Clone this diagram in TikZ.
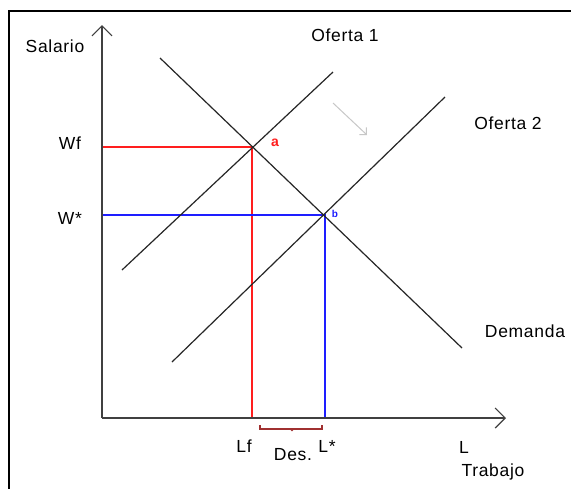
\documentclass[tikz,border=0pt]{standalone}
\usepackage{fontspec}
\setmainfont{Liberation Sans}
\newfontfamily\lblfont[LetterSpace=4]{Liberation Sans}
\usetikzlibrary{arrows.meta}
\definecolor{bracketred}{RGB}{160,48,48}
\definecolor{pred}{RGB}{255,30,30}
\definecolor{pblue}{RGB}{30,30,255}
\begin{document}
\begin{tikzpicture}[x=1pt,y=-1pt,
  lbl/.style={font=\lblfont\fontsize{17.5}{20}\selectfont, inner sep=0pt},
  small/.style={font=\fontsize{14}{16}\selectfont\bfseries, inner sep=0pt},
  curve/.style={line width=1.2pt, black!85},
  axisline/.style={line width=1.6pt, black!75, -{Straight Barb[length=10pt,width=20pt,line width=1.2pt]}},
  redline/.style={line width=1.5pt, pred},
  blueline/.style={line width=1.5pt, pblue}]
\useasboundingbox (0,0) rectangle (571,488);
\fill[white] (0,0) rectangle (571,488);
\begin{scope}
\clip (0,0) rectangle (571,488);
\draw[line width=2pt] (9,520) -- (9,11) -- (600,11);
\end{scope}
% key points
\coordinate (O) at (102,418);
\coordinate (ytop) at (102,25);
\coordinate (xend) at (506,418);
\coordinate (a) at (252,147);
\coordinate (b) at (325,215);
\coordinate (wf) at (102,147);
\coordinate (ws) at (102,215);
\coordinate (lf) at (252,418);
\coordinate (ls) at (325,418);
\coordinate (d1) at (160,58);
\coordinate (d2) at (462,348);
\coordinate (s1a) at (122,270);
\coordinate (s1b) at (333,72);
\coordinate (s2a) at (172,362);
\coordinate (s2b) at (445,97);
\coordinate (g1) at (333,103);
\coordinate (g2) at (367,135);
\coordinate (br1) at (260,425);
\coordinate (br2) at (322,425);
\coordinate (brm) at (292,430);
% red and blue guides
\draw[redline] (wf) -- (a) -- (lf);
\draw[blueline] (ws) -- (b) -- (ls);
% curves
\draw[curve] (d1) -- (d2);
\draw[curve] (s1a) -- (s1b);
\draw[curve] (s2a) -- (s2b);
% axes
\draw[axisline] (O) -- (ytop);
\draw[axisline] (O) -- (xend);
% shift arrow
\draw[line width=1pt, black!22, -{Straight Barb[length=5pt,width=10pt,line width=1pt]}] (g1) -- (g2);
% bracket
\draw[bracketred, line width=1.2pt] (br1) -- ++(0,4) -| (br2);
\fill[bracketred] (brm) circle (1.3);
% labels
\node[lbl] (salario) at (55,46) {Salario};
\node[lbl] (of1) at (345,35) {Oferta 1};
\node[lbl] (of2) at (508,123) {Oferta 2};
\node[lbl] (wflbl) at (70,143) {Wf};
\node[lbl] (wslbl) at (70,218) {W*};
\node[small, text=pred] (alb) at (275,143) {a};
\node[font=\fontsize{10}{12}\selectfont\bfseries, inner sep=0pt, text=pblue] (blb) at (335,214) {b};
\node[lbl] (dem) at (525,331) {Demanda};
\node[lbl] (lflbl) at (244,446) {Lf};
\node[lbl] (des) at (293,455) {Des.};
\node[lbl] (lslbl) at (327,446) {L*};
\node[lbl] (llbl) at (464,447) {L};
\node[lbl] (trab) at (493,472) {Trabajo};
\end{tikzpicture}
\end{document}
